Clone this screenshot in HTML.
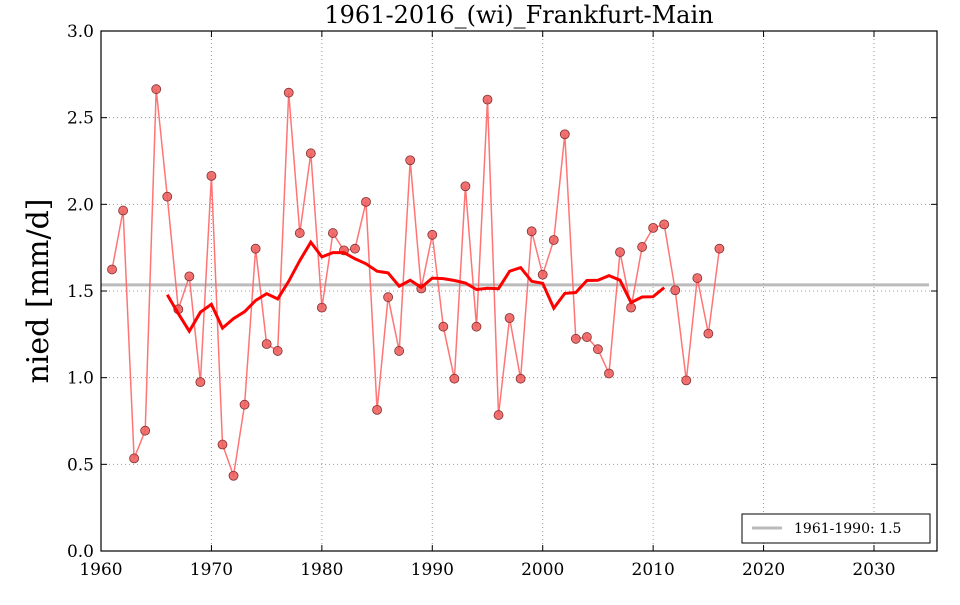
<!DOCTYPE html>
<html><head><meta charset="utf-8"><style>
html,body{margin:0;padding:0;background:#fff;}
svg text{font-family:"DejaVu Serif","Liberation Serif",serif;}
</style></head><body>
<svg id="s" width="960" height="600" xmlns="http://www.w3.org/2000/svg"></svg>
<script>
const vals=[1.63,1.97,0.54,0.70,2.67,2.05,1.40,1.59,0.98,2.17,0.62,0.44,0.85,1.75,1.20,1.16,2.65,1.84,2.30,1.41,1.84,1.74,1.75,2.02,0.82,1.47,1.16,2.26,1.52,1.83,1.30,1.00,2.11,1.30,2.61,0.79,1.35,1.00,1.85,1.60,1.80,2.41,1.23,1.24,1.17,1.03,1.73,1.41,1.76,1.87,1.89,1.51,0.99,1.58,1.26,1.75];
const X=y=>101+(y-1960)*773/70, Y=v=>551-v*520/3;
let h='';
for(let y=1970;y<=2030;y+=10){const x=X(y);h+=`<line x1="${x}" y1="31" x2="${x}" y2="551" stroke="#999" stroke-dasharray="1,3"/>`;}
for(let v=0.5;v<3;v+=0.5){const y=Y(v);h+=`<line x1="101" y1="${y}" x2="937" y2="${y}" stroke="#999" stroke-dasharray="1,3"/>`;}
for(let y=1960;y<=2035;y+=10){const x=X(y);h+=`<line x1="${x}" y1="551" x2="${x}" y2="545" stroke="#000"/><line x1="${x}" y1="31" x2="${x}" y2="37" stroke="#000"/><text x="${x}" y="575" font-size="17" text-anchor="middle">${y}</text>`;}
for(let v=0;v<=3.001;v+=0.5){const y=Y(v);h+=`<line x1="101" y1="${y}" x2="107" y2="${y}" stroke="#000"/><line x1="937" y1="${y}" x2="931" y2="${y}" stroke="#000"/><text x="94" y="${y+6}" font-size="17" text-anchor="end">${v.toFixed(1)}</text>`;}
h+=`<line x1="101" y1="${Y(1.535)}" x2="929" y2="${Y(1.535)}" stroke="#bbb" stroke-width="3"/>`;
let p=vals.map((v,i)=>X(1961+i).toFixed(1)+','+(Y(v)+1).toFixed(1)).join(' ');
h+=`<polyline points="${p}" fill="none" stroke="#ff6666" stroke-opacity="0.9" stroke-width="1.5"/>`;
vals.forEach((v,i)=>{h+=`<circle cx="${X(1961+i)}" cy="${Y(v)+1}" r="4.5" fill="#f06060" fill-opacity="0.9" stroke="#803030" stroke-width="0.8"/>`;});
let m=[];for(let i=5;i<vals.length-5;i++){let s=0;for(let k=i-5;k<=i+5;k++)s+=vals[k];m.push(X(1961+i).toFixed(1)+','+(Y(s/11)+1).toFixed(1));}
h+=`<polyline points="${m.join(' ')}" fill="none" stroke="#ff0000" stroke-width="3"/>`;
h+=`<rect x="101" y="31" width="836" height="520" fill="none" stroke="#000" stroke-width="1.2"/>`;
h+=`<rect x="742" y="514" width="188" height="29" fill="#fff" stroke="#000"/><line x1="752" y1="528" x2="782" y2="528" stroke="#bbb" stroke-width="3"/><text x="794" y="533" font-size="14">1961-1990: 1.5</text>`;
h+=`<text x="519" y="23" font-size="24" text-anchor="middle">1961-2016_(wi)_Frankfurt-Main</text>`;
h+=`<text transform="translate(48,291) rotate(-90)" font-size="30" text-anchor="middle">nied [mm/d]</text>`;
document.getElementById('s').innerHTML=h;
</script>
</body></html>
